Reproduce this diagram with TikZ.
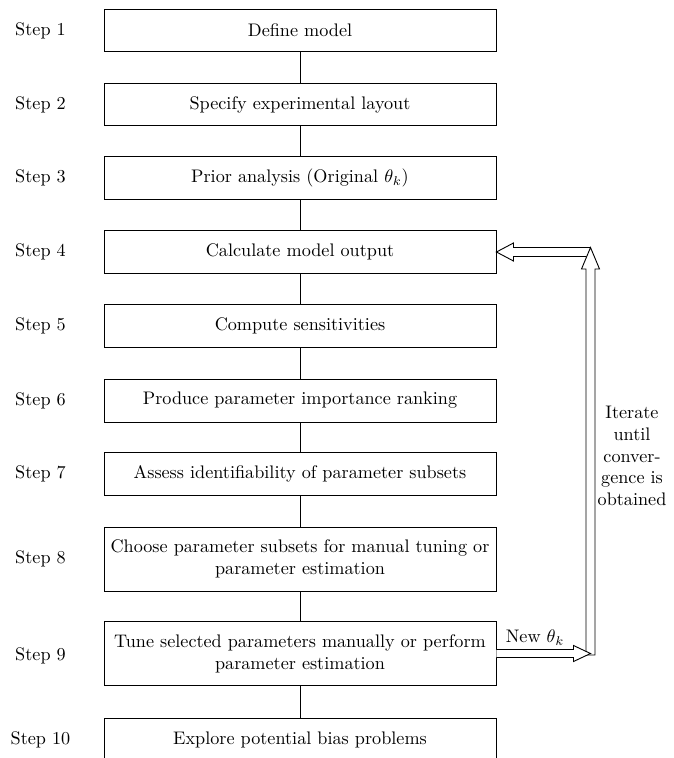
\documentclass[tikz,border=0pt]{standalone}
\usetikzlibrary{calc}
\begin{document}
\begin{tikzpicture}[x=0.55pt,y=-0.55pt,
  stepbox/.style={draw, line width=0.5pt, minimum width=215.6pt, minimum height=23.6pt, align=center, inner sep=0pt},
  tallbox/.style={stepbox, minimum height=35.2pt},
  steplabel/.style={anchor=center, inner sep=0pt},
  link/.style={line width=0.5pt},
  hollow/.style={line width=0.5pt, line join=miter}]
\useasboundingbox (0,0) rectangle (673,758);
% boxes
\node[stepbox] (b1) at (300,30.5) {Define model};
\node[stepbox] (b2) at (300,104.5) {Specify experimental layout};
\node[stepbox] (b3) at (300,178) {Prior analysis (Original $\theta_k$)};
\node[stepbox] (b4) at (300,252) {Calculate model output};
\node[stepbox] (b5) at (300,326) {Compute sensitivities};
\node[stepbox] (b6) at (300,400.5) {Produce parameter importance ranking};
\node[stepbox] (b7) at (300,474) {Assess identifiability of parameter subsets};
\node[tallbox] (b8) at (300,559) {Choose parameter subsets for manual tuning or\\parameter estimation};
\node[tallbox] (b9) at (300,653.5) {Tune selected parameters manually or perform\\parameter estimation};
\node[stepbox] (b10) at (300,740) {Explore potential bias problems};
% step labels
\node[steplabel] (s1) at (40.5,30.5) {Step 1};
\node[steplabel] (s2) at (40.5,104.5) {Step 2};
\node[steplabel] (s3) at (40.5,178) {Step 3};
\node[steplabel] (s4) at (40.5,252) {Step 4};
\node[steplabel] (s5) at (40.5,326) {Step 5};
\node[steplabel] (s6) at (40.5,400.5) {Step 6};
\node[steplabel] (s7) at (40.5,474) {Step 7};
\node[steplabel] (s8) at (40.5,559) {Step 8};
\node[steplabel] (s9) at (40.5,656) {Step 9};
\node[steplabel] (s10) at (40.5,740) {Step 10};
% connectors
\foreach \a/\b in {b1/b2,b2/b3,b3/b4,b4/b5,b5/b6,b6/b7,b7/b8,b8/b9,b9/b10}
  \draw[link] (\a.south) -- (\b.north);
% loop arrows
\coordinate (vtip) at (590.5,247.5);
\coordinate (vbot) at (590.5,655);
\coordinate (htip) at (590.5,653.5);
\draw[hollow] ($(vbot)+(-4.5,0)$) -- ($(vtip)+(-4.5,21.5)$) -- ($(vtip)+(-9,21.5)$) -- (vtip)
  -- ($(vtip)+(9,21.5)$) -- ($(vtip)+(4.5,21.5)$) -- ($(vbot)+(4.5,0)$) -- cycle;
\draw[hollow] (vtip) -- ($(b4.east)+(17,-4.5)$) -- ($(b4.east)+(17,-9)$) -- (b4.east)
  -- ($(b4.east)+(17,9)$) -- ($(b4.east)+(17,4.5)$) -- ($(vtip)+(-3.77,9)$);
\draw[hollow, fill=white] ($(b9.east)+(0,-4)$) -- ($(htip)+(-17,-4)$) -- ($(htip)+(-17,-8)$) -- (htip)
  -- ($(htip)+(-17,8)$) -- ($(htip)+(-17,4)$) -- ($(b9.east)+(0,4)$);
\node (newtheta) at (535,638) {New $\theta_k$};
\node[align=center, inner sep=0pt] (iter) at (632,456) {Iterate\\until\\conver-\\gence is\\obtained};
\end{tikzpicture}
\end{document}
